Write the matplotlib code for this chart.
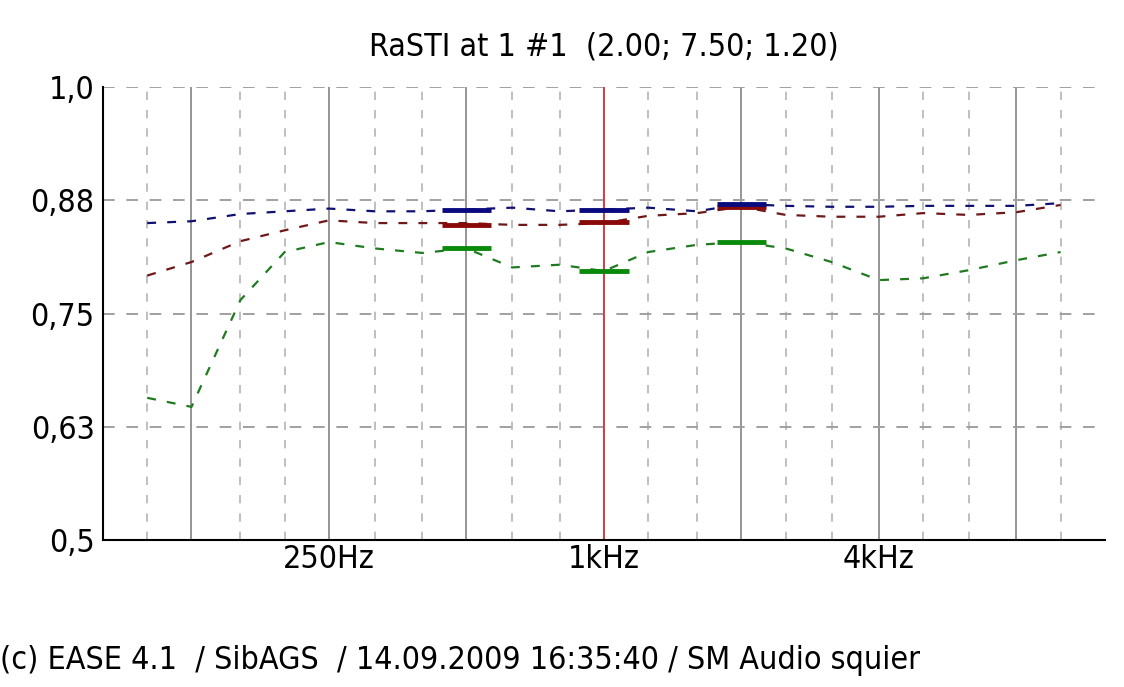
import matplotlib

matplotlib.use("Agg")

import matplotlib.pyplot as plt

# third-octave centre frequencies, Hz
FREQS = [100, 125, 160, 200, 250, 315, 400, 500, 630, 800, 1000,
         1250, 1600, 2000, 2500, 3150, 4000, 5000, 6300, 8000, 10000]

RASTI_BLUE = [0.850, 0.852, 0.860, 0.863, 0.866, 0.863, 0.863, 0.865, 0.867, 0.863, 0.865,
              0.867, 0.863, 0.871, 0.869, 0.868, 0.868, 0.869, 0.869, 0.869, 0.872]
RASTI_RED = [0.792, 0.807, 0.830, 0.842, 0.853, 0.850, 0.850, 0.850, 0.848, 0.848, 0.850,
             0.858, 0.861, 0.868, 0.859, 0.857, 0.857, 0.861, 0.859, 0.862, 0.870]
RASTI_GREEN = [0.657, 0.647, 0.765, 0.818, 0.829, 0.822, 0.817, 0.822, 0.801, 0.804, 0.797,
               0.818, 0.826, 0.829, 0.822, 0.807, 0.787, 0.789, 0.798, 0.809, 0.818]

# octave band values shown as thick bars
BAND_FREQS = [500, 1000, 2000]
BAND_BLUE = [0.864, 0.864, 0.871]
BAND_RED = [0.848, 0.851, 0.868]
BAND_GREEN = [0.823, 0.797, 0.829]

OCTAVES = [125, 250, 500, 1000, 2000, 4000, 8000]
Y_TICKS = [0.5, 0.625, 0.75, 0.875, 1.0]
Y_LABELS = ["0,5", "0,63", "0,75", "0,88", "1,0"]
X_TICKS = [250, 1000, 4000]
X_LABELS = ["250Hz", "1kHz", "4kHz"]

TITLE = "RaSTI at 1 #1  (2.00; 7.50; 1.20)"
FOOTER = "(c) EASE 4.1  / SibAGS  / 14.09.2009 16:35:40 / SM Audio squier"

plt.rcParams["font.family"] = ["DejaVu Sans"]
plt.rcParams["font.stretch"] = "condensed"
FONT_SIZE = 23

fig = plt.figure(figsize=(11.24, 6.87), dpi=100)
ax = fig.add_axes([0.0916, 0.214, 0.983 - 0.0916, 0.873 - 0.214])
ax.set_xscale("log")
ax.set_xlim(80, 12500)
ax.set_ylim(0.5, 1.0)

for f in FREQS:
    if f in OCTAVES:
        ax.axvline(f, color="#8c8c8c", linewidth=1.3, zorder=1)
    else:
        ax.axvline(f, color="#b4b4b4", linewidth=1.2, linestyle=(0, (5, 6)), zorder=1)
for y in Y_TICKS[1:]:
    ax.axhline(y, color="#a0a0a0", linewidth=1.4, linestyle=(0, (6, 6)), zorder=1)
ax.axvline(1000, color="#e03030", linewidth=1.2, zorder=2)

for values, color in [(RASTI_BLUE, "#101070"), (RASTI_RED, "#701818"), (RASTI_GREEN, "#207a20")]:
    ax.plot(FREQS, values, color=color, linewidth=1.6, linestyle=(0, (4, 5)), zorder=3)

for values, color in [(BAND_GREEN, "#0a8a0a"), (BAND_RED, "#8a0a0a"), (BAND_BLUE, "#0a0a80")]:
    for f, v in zip(BAND_FREQS, values):
        ax.hlines(v, f * 2 ** -0.18, f * 2 ** 0.18, color=color, linewidth=3.5, zorder=4)

ax.set_yticks(Y_TICKS)
ax.set_yticklabels(Y_LABELS, fontsize=FONT_SIZE)
ax.set_xticks(X_TICKS)
ax.set_xticklabels(X_LABELS, fontsize=FONT_SIZE)
ax.minorticks_off()
ax.tick_params(length=0, pad=6)
ax.tick_params(axis="x", pad=3)

for side in ["top", "right"]:
    ax.spines[side].set_visible(False)
for side in ["left", "bottom"]:
    ax.spines[side].set_color("black")
    ax.spines[side].set_linewidth(1.5)

fig.text(0.5375, 1 - 47 / 687, TITLE, fontsize=FONT_SIZE, ha="center", va="center")
fig.text(0.0, 1 - 661 / 687, FOOTER, fontsize=FONT_SIZE, ha="left", va="center")

fig.savefig("out.png", dpi=100)
